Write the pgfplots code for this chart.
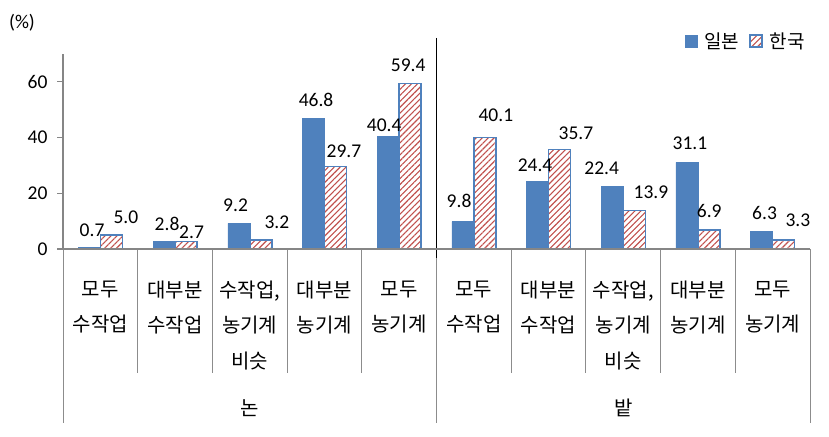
\documentclass[border=0pt]{standalone}
\usepackage{pgfplots}
\pgfplotsset{compat=1.18}
\usepackage{pgfplotstable}
\usepackage{fontspec}
\setmainfont{Carlito}
\newfontfamily\kr{Noto Sans CJK KR}
\usetikzlibrary{patterns.meta}
\definecolor{jblue}{HTML}{4F81BD}
\definecolor{kred}{HTML}{C0504D}
\definecolor{axgray}{HTML}{868686}
\definecolor{sepgray}{HTML}{8C8C8C}

\pgfplotstableread{
x y dx dy lbl
0 0.7 2.7 17 0.7
1 2.8 3 17.2 2.8
2 9.2 -3.2 18.5 9.2
3 46.8 2.6 18.7 46.8
4 40.4 -4 11.3 40.4
5 9.8 -3.8 20.3 9.8
6 24.4 -2.5 15.7 24.4
7 22.4 -10.5 18.7 22.4
8 31.1 3 18.9 31.1
9 6.3 2.9 18.2 6.3
}\japan

\pgfplotstableread{
x y dx dy lbl
0 5.0 14.6 18.2 5.0
1 2.7 5.5 9.5 2.7
2 3.2 16.2 18.1 3.2
3 29.7 8.5 15 29.7
4 59.4 -2 18.5 59.4
5 40.1 11 22.3 40.1
6 35.7 16.4 16.8 35.7
7 13.9 16.7 17.8 13.9
8 6.9 0.3 19.2 6.9
9 3.3 14.3 19.2 3.3
}\korea

\begin{document}
\begin{tikzpicture}
\useasboundingbox (0,0) rectangle (829pt,436pt);
\node[font=\fontsize{19.5}{22}\selectfont] at (22pt,413pt) {(\%)};
\begin{axis}[
  scale only axis, width=747pt, height=195pt,
  at={(63pt,187pt)}, anchor=south west,
  xmin=-0.5, xmax=9.5, ymin=0, ymax=70,
  ybar=0pt, bar width=22pt,
  axis x line*=bottom, axis y line*=left,
  axis line style={axgray, line width=1.8pt},
  axis on top,
  clip=false,
  ytick={0,20,40,60},
  ytick style={axgray, line width=1.2pt},
  major tick length=6pt, tick align=outside,
  yticklabel style={font=\fontsize{19.5}{22}\selectfont, xshift=-6pt},
  /pgf/number format/assume math mode=true,
  xtick={0,...,9},
  xtick style={draw=none},
  xticklabels={{모두\\수작업},{대부분\\수작업},{수작업,\\농기계\\비슷},{대부분\\농기계},{모두\\농기계},
               {모두\\수작업},{대부분\\수작업},{수작업,\\농기계\\비슷},{대부분\\농기계},{모두\\농기계}},
  xticklabel style={font=\kr\fontsize{20}{35.5}\selectfont, align=center, anchor=north, yshift=-22pt},
  nodes near coords, point meta=explicit symbolic,
  visualization depends on={\thisrow{dx} \as \dx},
  visualization depends on={\thisrow{dy} \as \dy},
  every node near coord/.append style={anchor=center, xshift=\dx*1pt, yshift=\dy*1pt,
     font=\fontsize{19.5}{22}\selectfont, text=black},
  legend image code/.code={\draw[#1] (0pt,-6pt) rectangle (12pt,6pt);},
  legend columns=2,
  legend style={draw=none, fill=none, font=\kr\fontsize{19}{22}\selectfont,
     at={(axis description cs:1.0,1.067)}, anchor=east,
     /tikz/every odd column/.append style={column sep=5pt},
     /tikz/every even column/.append style={column sep=8pt}},
]
\addplot[fill=jblue, draw=jblue, line width=0.5pt] table[x=x,y=y,meta=lbl]{\japan};
\addplot[draw=jblue, line width=1.5pt, pattern={Lines[angle=45,distance=4.2pt,line width=1.1pt]}, pattern color=kred] table[x=x,y=y,meta=lbl]{\korea};
\legend{일본,한국}
\draw[sepgray, line width=1pt] (axis cs:0.5,0) -- ++(0pt,-124pt);
\draw[sepgray, line width=1pt] (axis cs:1.5,0) -- ++(0pt,-124pt);
\draw[sepgray, line width=1pt] (axis cs:2.5,0) -- ++(0pt,-124pt);
\draw[sepgray, line width=1pt] (axis cs:3.5,0) -- ++(0pt,-124pt);
\draw[sepgray, line width=1pt] (axis cs:5.5,0) -- ++(0pt,-124pt);
\draw[sepgray, line width=1pt] (axis cs:6.5,0) -- ++(0pt,-124pt);
\draw[sepgray, line width=1pt] (axis cs:7.5,0) -- ++(0pt,-124pt);
\draw[sepgray, line width=1pt] (axis cs:8.5,0) -- ++(0pt,-124pt);
\draw[sepgray, line width=1pt] (axis cs:-0.5,0) -- ++(0pt,-174pt);
\draw[sepgray, line width=1pt] (axis cs:4.5,0) -- ++(0pt,-174pt);
\draw[sepgray, line width=1pt] (axis cs:9.5,0) -- ++(0pt,-174pt);
\draw[black, line width=1.5pt] (axis cs:4.5,0) ++(0pt,211pt) -- ++(0pt,-220pt);
\node[font=\kr\fontsize{20}{24}\selectfont, yshift=-159pt] at (axis cs:2,0) {논};
\node[font=\kr\fontsize{20}{24}\selectfont, yshift=-159pt] at (axis cs:7,0) {밭};
\end{axis}
\end{tikzpicture}
\end{document}
